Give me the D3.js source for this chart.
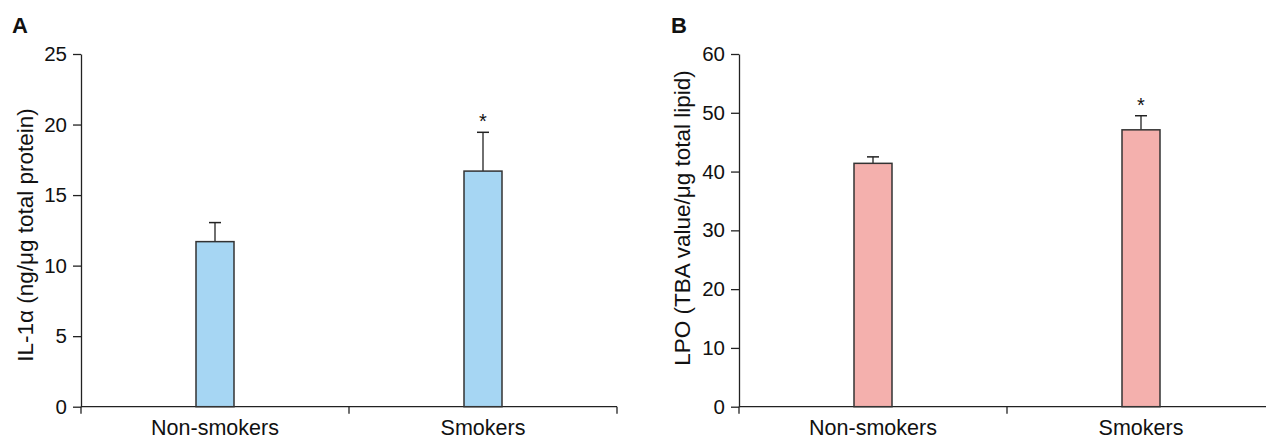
<!DOCTYPE html>
<html><head><meta charset="utf-8">
<script src="https://cdn.jsdelivr.net/npm/d3@7"></script>
<style>body{margin:0;background:#fff}svg{display:block;font-family:"Liberation Sans",Arial,sans-serif}</style>
</head><body>
<svg id="c" width="1266" height="439"></svg>
<script>
const categories = ["Non-smokers", "Smokers"];
const il1Values = [11.7, 16.7];
const il1Errors = [1.35, 2.75];
const il1Sig = ["", "*"];
const il1Ticks = [0, 5, 10, 15, 20, 25];
const lpoValues = [41.4, 47.1];
const lpoErrors = [1.1, 2.4];
const lpoSig = ["", "*"];
const lpoTicks = [0, 10, 20, 30, 40, 50, 60];

const svg = d3.select("#c");

function panel(o) {
  const g = svg.append("g");
  const x = d3.scaleBand().domain(categories).range([o.x0, o.x1]);
  const y = d3.scaleLinear().domain([0, o.max]).range([o.yb, o.yt]);
  const bw = 38;

  // y axis
  const ya = g.append("g").attr("transform", `translate(${o.x0},0)`)
    .call(d3.axisLeft(y).tickValues(o.ticks).tickSize(8).tickPadding(6).tickSizeOuter(0));
  ya.select(".domain").attr("stroke", "#222").attr("stroke-width", 1.3);
  ya.selectAll(".tick line").attr("stroke", "#222").attr("stroke-width", 1.3);
  ya.selectAll(".tick text").attr("font-size", 20.5).attr("fill", "#111")
    .attr("font-family", '"Liberation Sans",Arial,sans-serif');

  // x axis line
  g.append("line").attr("x1", o.x0).attr("x2", o.x1).attr("y1", o.yb).attr("y2", o.yb)
    .attr("stroke", "#222").attr("stroke-width", 1.3);
  // boundary ticks
  const bounds = [o.x0, o.x0 + x.step(), o.x1];
  g.selectAll(".bt").data(bounds).join("line")
    .attr("x1", d => d).attr("x2", d => d).attr("y1", o.yb).attr("y2", o.yb + 7)
    .attr("stroke", "#222").attr("stroke-width", 1.3);

  // category labels
  g.selectAll(".cl").data(categories).join("text")
    .attr("x", d => x(d) + x.bandwidth() / 2).attr("y", 434.5)
    .attr("text-anchor", "middle").attr("font-size", 21.5).attr("fill", "#111").text(d => d);

  // error bars
  categories.forEach((c, i) => {
    const cx = x(c) + x.bandwidth() / 2;
    const v = o.values[i], e = o.errors[i];
    g.append("line").attr("x1", cx).attr("x2", cx).attr("y1", y(v)).attr("y2", y(v + e))
      .attr("stroke", "#222").attr("stroke-width", 1.3);
    g.append("line").attr("x1", cx - 6).attr("x2", cx + 6).attr("y1", y(v + e)).attr("y2", y(v + e))
      .attr("stroke", "#222").attr("stroke-width", 1.5);
    if (o.sig[i]) {
      g.append("text").attr("x", cx).attr("y", y(v + e) - 4).attr("text-anchor", "middle")
        .attr("font-size", 20).attr("fill", "#111").text(o.sig[i]);
    }
  });

  // bars
  g.selectAll(".bar").data(categories).join("rect")
    .attr("x", d => x(d) + x.bandwidth() / 2 - bw / 2)
    .attr("width", bw)
    .attr("y", (d, i) => y(o.values[i]))
    .attr("height", (d, i) => y(0) - y(o.values[i]))
    .attr("fill", o.color).attr("stroke", "#333").attr("stroke-width", 1.5);

  // y title
  g.append("text").attr("transform", `translate(${o.tx},${o.ty}) rotate(-90)`)
    .attr("text-anchor", "middle").attr("font-size", 22.5).attr("fill", "#111").text(o.title);

  // panel letter
  g.append("text").attr("x", o.lx).attr("y", 33).attr("font-size", 22).attr("font-weight", "bold")
    .attr("fill", "#111").text(o.letter);
}

panel({x0: 81, x1: 617, yb: 406.7, yt: 54, max: 25, ticks: il1Ticks, values: il1Values,
  errors: il1Errors, sig: il1Sig, color: "#a6d6f3", title: "IL-1\u03B1 (ng/\u03BCg total protein)",
  tx: 33, ty: 235, lx: 12, letter: "A"});
panel({x0: 739, x1: 1275, yb: 406.7, yt: 54, max: 60, ticks: lpoTicks, values: lpoValues,
  errors: lpoErrors, sig: lpoSig, color: "#f4b0ad", title: "LPO (TBA value/\u03BCg total lipid)",
  tx: 690, ty: 218, lx: 671, letter: "B"});
</script>
</body></html>
